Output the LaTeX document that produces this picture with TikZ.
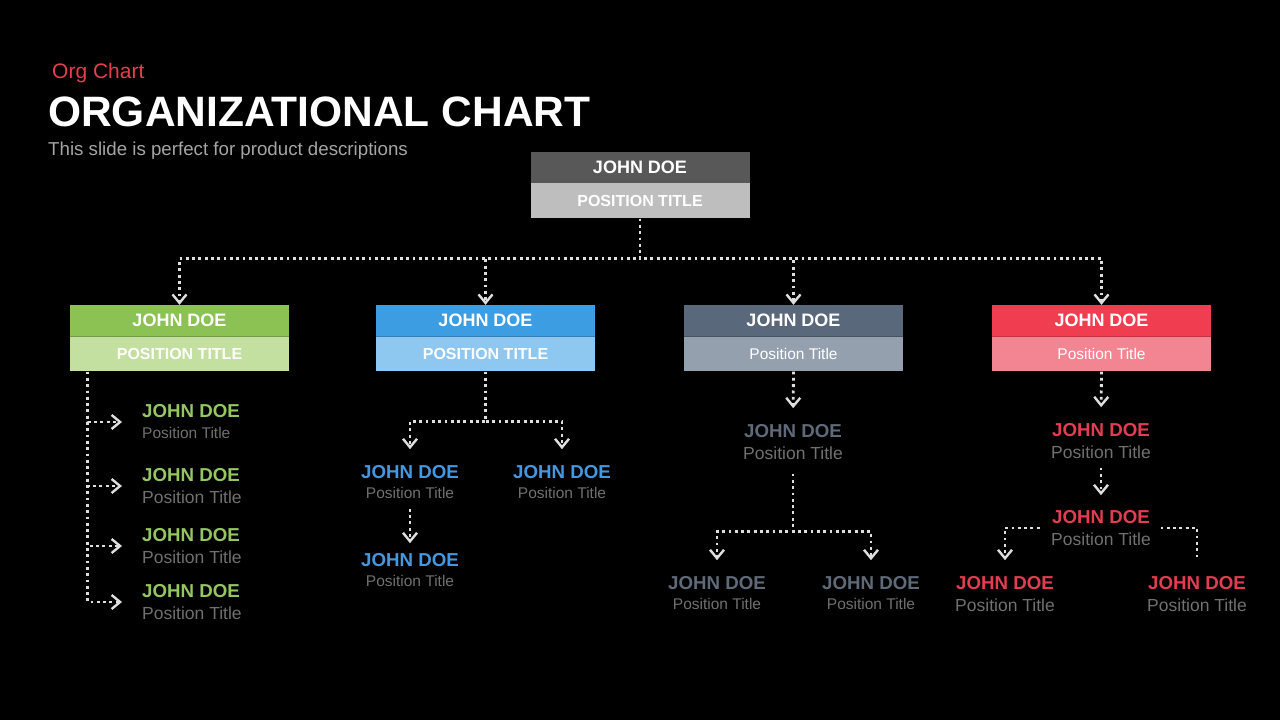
\documentclass[tikz,border=0pt]{standalone}
\usepackage{fontspec}
\setmainfont{Liberation Sans}
\usetikzlibrary{arrows.meta,positioning,calc}

\definecolor{tagred}{RGB}{226,64,76}
\definecolor{subgray}{RGB}{165,165,165}
\definecolor{topdark}{RGB}{88,88,88}
\definecolor{toplight}{RGB}{190,190,190}
\definecolor{greenhead}{RGB}{140,193,84}
\definecolor{greenrole}{RGB}{196,224,161}
\definecolor{greenname}{RGB}{148,198,98}
\definecolor{bluehead}{RGB}{60,157,226}
\definecolor{bluerole}{RGB}{142,199,240}
\definecolor{bluename}{RGB}{70,152,222}
\definecolor{slatehead}{RGB}{89,104,122}
\definecolor{slaterole}{RGB}{148,160,174}
\definecolor{slatename}{RGB}{95,106,121}
\definecolor{redhead}{RGB}{240,62,80}
\definecolor{redrole}{RGB}{243,132,145}
\definecolor{redname}{RGB}{226,62,82}
\definecolor{posgray}{RGB}{112,112,112}
\definecolor{linkgray}{RGB}{222,222,222}

\tikzset{
  headbox/.style={minimum width=219pt, minimum height=31pt, inner sep=0pt, text=white,
    font=\bfseries\fontsize{18}{21}\selectfont},
  rolebox/.style={minimum width=219pt, minimum height=35pt, inner sep=0pt, text=white,
    anchor=north, font=\fontsize{15.5}{18}\selectfont},
  rolecaps/.style={rolebox, font=\bfseries\fontsize{16}{19}\selectfont},
  kidname/.style={inner sep=0pt, font=\bfseries\fontsize{18.7}{22}\selectfont},
  kidpos/.style={inner sep=0pt, text=posgray, font=\fontsize{17.5}{21}\selectfont},
  kidsmall/.style={kidpos, font=\fontsize{15.5}{19}\selectfont},
  link/.style={draw=linkgray, line width=2.8pt, dash pattern=on 2.8pt off 3.5pt},
  barb/.style={-{Straight Barb[length=8.5pt,width=14pt,line width=2.4pt]}, shorten >=16pt},
}

\begin{document}
\begin{tikzpicture}[x=1pt,y=-1pt]
 \fill[black] (0,0) rectangle (1280,720);

 % heading
 \node[anchor=base west, inner sep=0pt, text=tagred, font=\fontsize{21}{25}\selectfont] (tag) at (52,78) {Org Chart};
 \node[anchor=base west, inner sep=0pt, text=white, font=\bfseries\fontsize{42.5}{50}\selectfont] (title) at (48,126) {ORGANIZATIONAL CHART};
 \node[anchor=base west, inner sep=0pt, text=subgray, font=\fontsize{18.7}{22}\selectfont] (sub) at (48,155) {This slide is perfect for product descriptions};

 % top box
 \node[headbox, fill=topdark] (top-h) at (640,167.5) {JOHN DOE};
 \node[rolecaps, fill=toplight] (top-p) at (top-h.south) {POSITION TITLE};

 % department boxes
 \node[headbox, fill=greenhead] (g-h) at (179.5,320.5) {JOHN DOE};
 \node[rolecaps, fill=greenrole] (g-p) at (g-h.south) {POSITION TITLE};
 \node[headbox, fill=bluehead] (b-h) at (485.5,320.5) {JOHN DOE};
 \node[rolecaps, fill=bluerole] (b-p) at (b-h.south) {POSITION TITLE};
 \node[headbox, fill=slatehead] (s-h) at (793.5,320.5) {JOHN DOE};
 \node[rolebox, fill=slaterole] (s-p) at (s-h.south) {Position Title};
 \node[headbox, fill=redhead] (r-h) at (1101.5,320.5) {JOHN DOE};
 \node[rolebox, fill=redrole] (r-p) at (r-h.south) {Position Title};

 \foreach \c/\col in {g/greenhead,b/bluehead,s/slatehead,r/redhead}{
  \draw[\col!80!black, line width=1.2pt] (\c-h.south west) -- (\c-h.south east);
  \draw[link, barb, shorten >=0pt] (top-p.south) -- ++(0,40) -| (\c-h.north);
 }

 % green column
 \node[kidname, text=greenname, anchor=west] (g1n) at (142,411) {JOHN DOE};
 \node[kidsmall, anchor=west] (g1p) at (142,433) {Position Title};
 \node[kidname, text=greenname, anchor=west] (g2n) at (142,475) {JOHN DOE};
 \node[kidpos, anchor=west] (g2p) at (142,497) {Position Title};
 \node[kidname, text=greenname, anchor=west] (g3n) at (142,535) {JOHN DOE};
 \node[kidpos, anchor=west] (g3p) at (142,557) {Position Title};
 \node[kidname, text=greenname, anchor=west] (g4n) at (142,591) {JOHN DOE};
 \node[kidpos, anchor=west] (g4p) at (142,613) {Position Title};
 \foreach \i in {1,...,4}
  \draw[link, barb, shorten >=20pt] ([xshift=18pt]g-p.south west) |- ($(g\i n.west)!.5!(g\i p.west)$);

 % blue column
 \node[kidname, text=bluename] (b1n) at (410,472) {JOHN DOE};
 \node[kidsmall] (b1p) at (410,493) {Position Title};
 \node[kidname, text=bluename] (b2n) at (562,472) {JOHN DOE};
 \node[kidsmall] (b2p) at (562,493) {Position Title};
 \node[kidname, text=bluename] (b3n) at (410,560) {JOHN DOE};
 \node[kidsmall] (b3p) at (410,581) {Position Title};
 \draw[link, barb] (b-p.south) -- ++(0,50) -| (b1n.north);
 \draw[link, barb] (b-p.south) -- ++(0,50) -| (b2n.north);
 \draw[link, barb, shorten <=10pt, shorten >=10pt] (b1p.south) -- (b3n.north);

 % slate column
 \node[kidname, text=slatename] (s1n) at (793,431) {JOHN DOE};
 \node[kidpos] (s1p) at (793,453) {Position Title};
 \node[kidname, text=slatename] (s2n) at (717,583) {JOHN DOE};
 \node[kidsmall] (s2p) at (717,604) {Position Title};
 \node[kidname, text=slatename] (s3n) at (871,583) {JOHN DOE};
 \node[kidsmall] (s3p) at (871,604) {Position Title};
 \draw[link, barb] (s-p.south) -- (s1n.north);
 \draw[link, barb, shorten <=14pt] (s1p.south) -- ++(0,72) -| (s2n.north);
 \draw[link, barb, shorten <=14pt] (s1p.south) -- ++(0,72) -| (s3n.north);

 % red column
 \node[kidname, text=redname] (r1n) at (1101,430) {JOHN DOE};
 \node[kidpos] (r1p) at (1101,452) {Position Title};
 \node[kidname, text=redname] (r2n) at (1101,517) {JOHN DOE};
 \node[kidpos] (r2p) at (1101,539) {Position Title};
 \node[kidname, text=redname] (r3n) at (1005,583) {JOHN DOE};
 \node[kidpos] (r3p) at (1005,605) {Position Title};
 \node[kidname, text=redname] (r4n) at (1197,583) {JOHN DOE};
 \node[kidpos] (r4p) at (1197,605) {Position Title};
 \draw[link, barb] (r-p.south) -- (r1n.north);
 \draw[link, barb, shorten <=9pt, shorten >=15pt] (r1p.south) -- (r2n.north);
 \draw[link, barb, shorten <=12pt] ($(r2n.west)!.5!(r2p.west)$) -| (r3n.north);
 \draw[link, shorten <=10pt, shorten >=18pt] ($(r2n.east)!.5!(r2p.east)$) -| (r4n.north);
\end{tikzpicture}
\end{document}
